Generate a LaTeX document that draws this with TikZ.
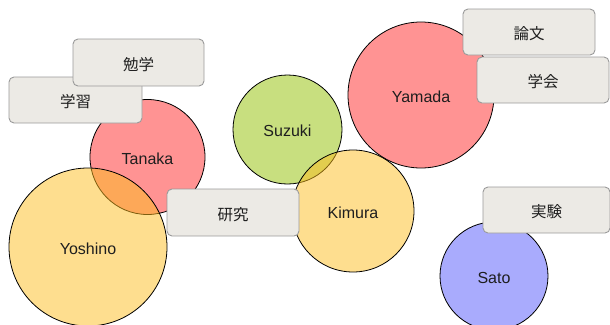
\documentclass[tikz,border=0pt]{standalone}
\usepackage{fontspec}
\setmainfont{Liberation Sans}
\newfontfamily\jp{Noto Sans CJK JP}
\definecolor{redC}{RGB}{255,39,39}
\definecolor{yelC}{RGB}{253,189,31}
\definecolor{grnC}{RGB}{145,191,0}
\definecolor{bluC}{RGB}{83,87,251}
\definecolor{boxfill}{RGB}{236,234,229}
\definecolor{boxline}{RGB}{154,154,154}
\definecolor{ink}{RGB}{30,30,30}
\tikzset{
  person/.style={circle, draw=black, line width=0.8pt, fill opacity=0.5, text opacity=1, text=ink, inner sep=0pt, text height=14.5pt, text depth=0pt, font=\fontsize{16}{19}\selectfont},
  tag/.style={rectangle, rounded corners=5pt, draw=boxline, line width=0.9pt, fill=boxfill, text=ink, minimum height=46pt, inner sep=0pt, text height=15pt, text depth=0pt, font=\jp\fontsize{15.5}{19}\selectfont}
}
\begin{document}
\begin{tikzpicture}[x=1pt,y=-1pt]
\useasboundingbox (0,0) rectangle (610,324);
% people
\node[person, fill=redC, minimum size=115pt] (tanaka) at (147.5,157) {Tanaka};
\node[person, fill=yelC, minimum size=158pt] (yoshino) at (88,247) {Yoshino};
\node[person, fill=grnC, minimum size=109pt] (suzuki) at (287.5,129.5) {Suzuki};
\node[person, fill=yelC, minimum size=122pt] (kimura) at (353,211) {Kimura};
\node[person, fill=redC, minimum size=146pt] (yamada) at (421,95) {Yamada};
\node[person, fill=bluC, minimum size=108pt] (sato) at (494,276) {Sato};
% tags
\node[tag, minimum width=133pt] (gakushu) at (75.5,100) {学習};
\node[tag, minimum width=131pt, minimum height=47pt] (bengaku) at (138.5,62.5) {勉学};
\node[tag, minimum width=132pt, minimum height=47pt] (kenkyu) at (233,212.5) {研究};
\node[tag, minimum width=132pt] (ronbun) at (529,32) {論文};
\node[tag, minimum width=132pt] (gakkai) at (543,80) {学会};
\node[tag, minimum width=127pt] (jikken) at (546.5,210) {実験};
\end{tikzpicture}
\end{document}
